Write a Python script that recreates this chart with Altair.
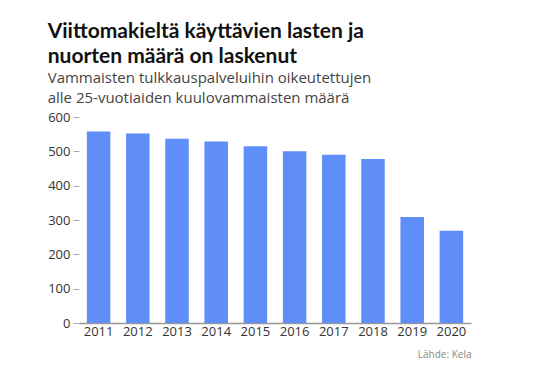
import altair as alt
import pandas as pd

years = ["2011", "2012", "2013", "2014", "2015", "2016", "2017", "2018", "2019", "2020"]
counts = [558, 552, 537, 529, 515, 500, 490, 478, 309, 269]

df = pd.DataFrame({"year": years, "count": counts})

title = alt.Title(
    text=["Viittomakieltä käyttävien lasten ja", "nuorten määrä on laskenut"],
    subtitle=["Vammaisten tulkkauspalveluihin oikeutettujen", "alle 25-vuotiaiden kuulovammaisten määrä"],
    anchor="start",
    frame="bounds",
    font="Lato",
    fontSize=21,
    fontWeight="bold",
    color="#111111",
    lineHeight=25,
    subtitleFont="Open Sans",
    subtitleFontSize=15,
    subtitleColor="#444444",
    subtitleLineHeight=20,
    subtitlePadding=4,
    offset=5,
)

chart = (
    alt.Chart(df, title=title)
    .mark_bar(color="#5f8ef9")
    .encode(
        x=alt.X(
            "year:N",
            sort=years,
            scale=alt.Scale(paddingInner=0.4, paddingOuter=0.2),
            axis=alt.Axis(
                title="Lähde: Kela",
                titleAnchor="end",
                titleAlign="right",
                titleFont="Open Sans",
                titleFontSize=10,
                titleFontWeight="normal",
                titleColor="#888888",
                titlePadding=11,
                labelAngle=0,
                labelFont="Open Sans",
                labelFontSize=13,
                labelColor="#333333",
                labelPadding=2,
                ticks=False,
                domainColor="#999999",
                domainWidth=1.5,
            ),
        ),
        y=alt.Y(
            "count:Q",
            scale=alt.Scale(domain=[0, 600]),
            axis=alt.Axis(
                title=None,
                values=[0, 100, 200, 300, 400, 500, 600],
                labelFont="Open Sans",
                labelFontSize=13,
                labelColor="#333333",
                tickColor="#aaaaaa",
                tickSize=6,
                labelPadding=3,
                domain=False,
                grid=False,
            ),
        ),
    )
    .properties(
        width=392,
        height=206,
        padding={"left": 39, "top": 13, "right": 5, "bottom": 5},
    )
    .configure(background="white")
    .configure_view(stroke=None, strokeWidth=0)
)

chart.save("out.html", embed_options={"renderer": "svg", "actions": False})
